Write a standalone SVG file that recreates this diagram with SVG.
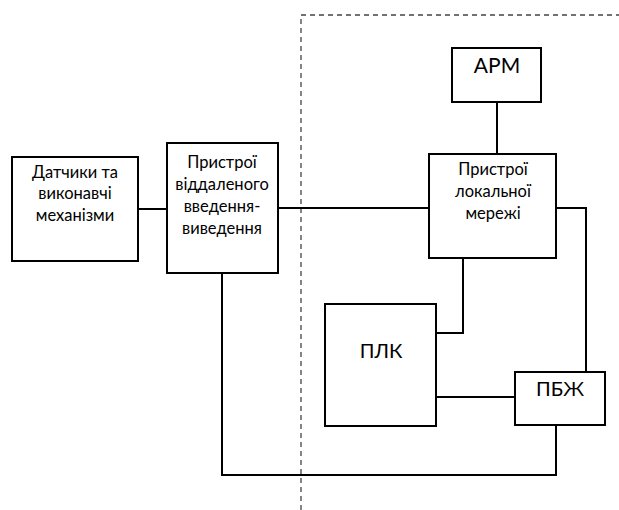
<svg xmlns="http://www.w3.org/2000/svg" width="619" height="510" viewBox="0 0 619 510">
  <style>
    .box { fill: #fff; stroke: #000; stroke-width: 2; }
    .wire { fill: none; stroke: #000; stroke-width: 2; }
    .border { fill: none; stroke: #444; stroke-width: 1.3; stroke-dasharray: 5 4; }
    text { font-family: Lato, "Open Sans", "Liberation Sans", sans-serif; fill: #000; text-anchor: middle; }
    .t { font-size: 16.5px; }
    .tl { font-size: 20px; }
  </style>
  <rect width="619" height="510" fill="#fff"/>

  <!-- boundary of the local control segment -->
  <path class="border" d="M301,510 V15 H619"/>

  <g id="connectors">
    <line class="wire" x1="138" y1="209" x2="167" y2="209"/>
    <line class="wire" x1="278" y1="208" x2="429" y2="208"/>
    <line class="wire" x1="497" y1="102" x2="497" y2="154"/>
    <polyline class="wire" points="556,208 586,208 586,372"/>
    <polyline class="wire" points="463,258 463,333 436,333"/>
    <line class="wire" x1="436" y1="397" x2="515" y2="397"/>
    <polyline class="wire" points="556,425 556,475 222,475 222,273"/>
  </g>

  <g id="sensors">
    <rect class="box" x="12" y="157" width="126" height="104"/>
    <text class="t" x="75" y="178">Датчики та</text>
    <text class="t" x="75" y="199">виконавчі</text>
    <text class="t" x="75" y="221">механізми</text>
  </g>

  <g id="remote-io">
    <rect class="box" x="167" y="143" width="111" height="130"/>
    <text class="t" x="222" y="168">Пристрої</text>
    <text class="t" x="222" y="190">віддаленого</text>
    <text class="t" x="222" y="212">введення-</text>
    <text class="t" x="222" y="234">виведення</text>
  </g>

  <g id="arm">
    <rect class="box" x="452" y="48" width="89" height="54"/>
    <text class="tl" x="497" y="73" style="font-size:21px">АРМ</text>
  </g>

  <g id="lan">
    <rect class="box" x="429" y="154" width="127" height="104"/>
    <text class="t" x="493" y="175">Пристрої</text>
    <text class="t" x="493" y="197">локальної</text>
    <text class="t" x="493" y="219">мережі</text>
  </g>

  <g id="plc">
    <rect class="box" x="325" y="304" width="111" height="122"/>
    <text class="tl" x="381" y="358">ПЛК</text>
  </g>

  <g id="safety">
    <rect class="box" x="515" y="372" width="90" height="53"/>
    <text class="tl" x="560" y="396">ПБЖ</text>
  </g>
</svg>
